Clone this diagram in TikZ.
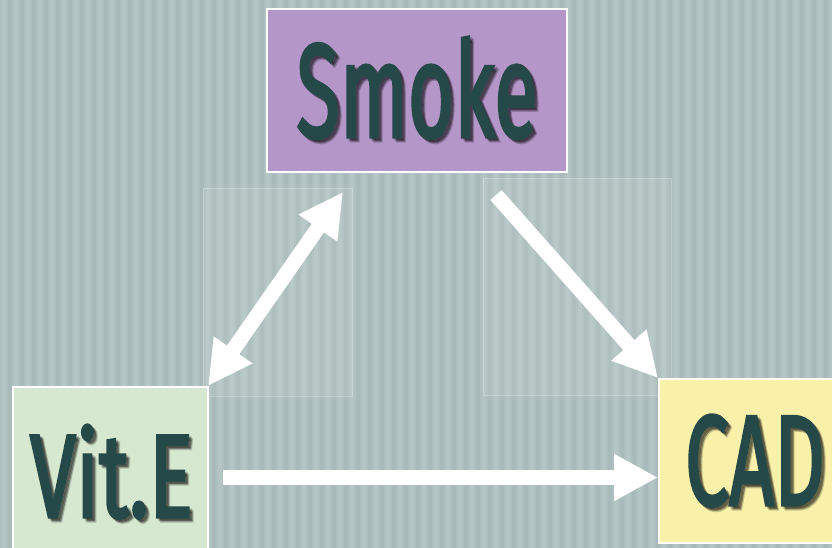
\documentclass[tikz,border=0pt]{standalone}
\usepackage{fontspec}
\setmainfont{Fira Sans}
\newfontfamily\labelfont{Fira Sans}[FakeBold=2.6]
\usetikzlibrary{arrows.meta}
\definecolor{bgbase}{HTML}{A8BBBA}
\definecolor{bgmid}{HTML}{AEC0BF}
\definecolor{bgstripe}{HTML}{B4C5C4}
\definecolor{smokefill}{HTML}{B497C8}
\definecolor{vitefill}{HTML}{D6E8CF}
\definecolor{cadfill}{HTML}{F9F1A9}
\definecolor{ink}{HTML}{254848}
\tikzset{
  box/.style={draw=white, line width=2pt, inner sep=0pt},
  word/.style={inner sep=0pt, anchor=base, text=ink, font=\labelfont},
  wordshadow/.style={inner sep=0pt, anchor=base, text=black, text opacity=0.2, font=\labelfont},
  panel/.style={draw=white, draw opacity=0.25, fill=white, fill opacity=0.07, line width=0.8pt},
  arr/.style={draw=white, line width=15pt, -{Triangle[length=44pt,width=44pt]}},
  darr/.style={draw=white, line width=15pt, {Triangle[length=44pt,width=44pt]}-{Triangle[length=44pt,width=44pt]}}
}
\newcommand{\fitword}[3]{\resizebox{#2}{#3}{#1}}
\begin{document}
\begin{tikzpicture}[x=1pt,y=-1pt]
  \useasboundingbox (0,0) rectangle (832,548);
  % softly striped backdrop
  \fill[bgbase] (0,0) rectangle (832,548);
  \foreach \x in {0,12,...,828} {
    \fill[bgmid] (\x,0) rectangle ++(8,548);
    \fill[bgstripe] (\x+2,0) rectangle ++(4,548);
  }

  % faint panels behind the diagonal arrows
  \path[panel] (203,188) rectangle (352,396);
  \path[panel] (483,178) rectangle (671,395);

  % boxes
  \node[box, fill=smokefill, minimum width=300pt, minimum height=163pt] (smoke) at (417,90.5) {};
  \node[box, fill=vitefill, minimum width=195pt, minimum height=173pt] (vite) at (110.5,473.5) {};
  \node[box, fill=cadfill, minimum width=181pt, minimum height=164pt] (cad) at (749.5,461) {};

  % labels with soft drop shadows
  \foreach \s in {2,3,4} {
    \node[wordshadow] at ([shift={(\s,\s)}]smoke.center) [yshift=-46.5pt] {\fitword{Smoke}{241pt}{100pt}};
    \node[wordshadow] at ([shift={(1+\s,\s)}]vite.center) [yshift=-43.5pt] {\fitword{Vit.E}{163pt}{92pt}};
    \node[wordshadow] at ([shift={(5.5+\s,\s)}]cad.center) [yshift=-44pt] {\fitword{CAD}{140pt}{90pt}};
  }
  \node[word] (smoketxt) at ([yshift=-46.5pt]smoke.center) {\fitword{Smoke}{241pt}{100pt}};
  \node[word] (vitetxt) at ([shift={(1,0)}]vite.center) [yshift=-43.5pt] {\fitword{Vit.E}{163pt}{92pt}};
  \node[word] (cadtxt) at ([shift={(5.5,0)}]cad.center) [yshift=-44pt] {\fitword{CAD}{140pt}{90pt}};

  % connectors
  \coordinate (a1) at ([shift={(-1,0)}]vite.north east);
  \coordinate (a2) at ([shift={(-74,19)}]smoke.south);
  \draw[darr] (a1) -- (a2);

  \coordinate (b1) at ([shift={(79,22)}]smoke.south);
  \draw[arr] (b1) -- (cad.north west);

  \coordinate (c1) at ([shift={(14,4)}]vite.east);
  \draw[arr] (c1) -- (c1 -| cad.west);
\end{tikzpicture}
\end{document}
